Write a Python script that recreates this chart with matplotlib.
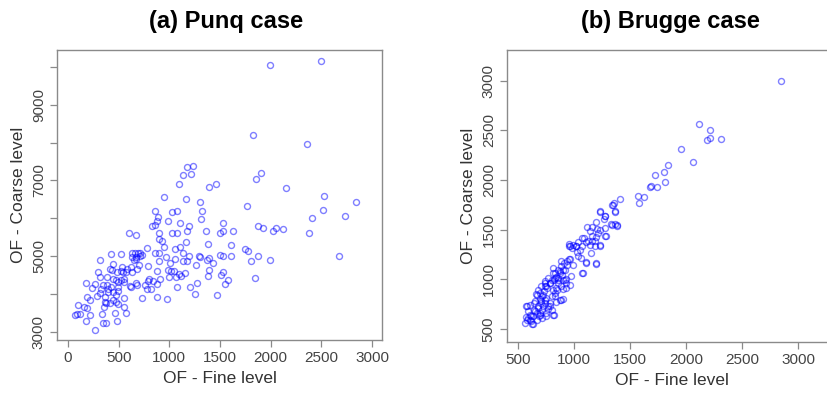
import matplotlib
matplotlib.use('Agg')
import matplotlib.pyplot as plt
from matplotlib.ticker import FixedLocator

# ── (a) Punq case: fine vs coarse objective function ──────────────────
punq_fine = [
    1995, 2499, 1830, 2357, 1902, 1856, 2153, 1770, 2529, 2845, 2516, 2736,
    2407, 2380, 2670, 1995, 1850, 1873, 1929, 2021, 2054, 2120, 1873, 1803,
    1780, 1747, 1632, 1606, 1606, 1527, 1527, 1500, 1527, 1500, 1527, 1510,
    1583, 1553, 1474, 1461, 1395, 1300, 1325, 1309, 1358, 1382, 1368, 1395,
    1434, 1395, 1385, 1296, 1302, 1260, 1270, 1257, 1203, 1236, 1170, 1131,
    1213, 1095, 1160, 950, 1075, 1025, 989, 857, 893, 874, 834, 857,
    1108, 1197, 1174, 1078, 1029, 897, 897, 926, 952, 778, 860, 900,
    966, 1006, 1058, 1108, 1164, 1134, 1131, 1170, 1197, 1055, 992, 1045,
    1065, 1111, 1154, 1091, 1019, 996, 910, 880, 897, 788, 796, 785,
    841, 874, 765, 778, 821, 735, 874, 979, 1072, 600, 669, 524,
    429, 313, 300, 313, 175, 270, 237, 188, 214, 102, 155, 188,
    66, 92, 115, 214, 175, 270, 340, 346, 379, 353, 372, 412,
    462, 485, 570, 554, 550, 491, 445, 478, 392, 330, 313, 290,
    362, 366, 399, 445, 495, 495, 429, 382, 346, 386, 445, 478,
    498, 550, 435, 415, 445, 485, 538, 547, 587, 620, 577, 636,
    682, 702, 709, 692, 663, 633, 656, 676, 709, 735, 636, 669,
    521, 610, 620, 676, 686, 521, 554, 471,
]
punq_coarse = [
    10059, 10165, 8206, 7959, 7209, 7033, 6794, 6327, 6600, 6433, 6230, 6062,
    6018, 5621, 5003, 4897, 4412, 5797, 5735, 5665, 5735, 5709, 5003, 4880,
    5144, 5188, 5665, 5294, 5012, 5868, 5656, 5603, 5012, 5030, 4588, 4500,
    4368, 4253, 3970, 6909, 6821, 6441, 6185, 5983, 5656, 5321, 4897, 4941,
    4827, 4632, 4474, 5003, 4968, 4765, 4297, 3997, 4174, 7394, 7350, 7156,
    7165, 6900, 6503, 6574, 6203, 6159, 5938, 6203, 6044, 5938, 5797, 5824,
    5868, 5806, 5665, 5603, 5603, 5621, 5453, 5400, 5233, 5206, 5074, 5091,
    4985, 4827, 5180, 5250, 5365, 5074, 4880, 4880, 5003, 4915, 4632, 4615,
    4438, 4483, 4562, 4518, 4615, 4456, 4385, 4615, 4880, 4738, 4385, 4332,
    4341, 4262, 4235, 4120, 4138, 3900, 3926, 3856, 4191, 5621, 5559, 5056,
    5056, 4897, 4588, 4438, 4279, 4253, 4147, 3909, 3838, 3706, 3662, 3618,
    3441, 3459, 3468, 3441, 3282, 3044, 3459, 3221, 3238, 3662, 3750, 3768,
    3503, 3282, 3485, 3644, 3882, 3732, 3838, 3970, 4120, 4120, 4015, 3944,
    3926, 3794, 4050, 4059, 4085, 4174, 4191, 4235, 4235, 4438, 4385, 4368,
    4323, 4306, 4632, 4668, 4791, 4579, 4703, 4571, 4668, 4721, 4571, 4571,
    4650, 4765, 5003, 5074, 5074, 4985, 4897, 4915, 5091, 5030, 5074, 4968,
    4597, 4209, 4191, 4297, 4235, 4368, 4385, 3794,
]

# ── (b) Brugge case ────────────────────────────────────────────────────
brugge_fine = [
    2845, 2116, 2217, 2187, 2217, 2312, 1952, 2062, 1836, 1801, 1720, 1809,
    1741, 1676, 1685, 1622, 1574, 1580, 1411, 1360, 1339, 1369, 1232, 1277,
    1265, 1333, 1366, 1387, 1274, 1199, 1208, 1229, 1164, 1116, 1140, 1283,
    1199, 1229, 1161, 1185, 1140, 1110, 1074, 1036, 1066, 1015, 985, 955,
    1027, 1036, 1057, 1104, 1193, 1074, 955, 937, 908, 887, 917, 857,
    872, 893, 926, 926, 807, 828, 842, 819, 857, 783, 753, 738,
    708, 768, 693, 658, 723, 753, 783, 842, 872, 902, 819, 723,
    679, 699, 649, 634, 604, 628, 574, 592, 574, 613, 580, 664,
    687, 717, 753, 768, 738, 693, 640, 604, 708, 783, 798, 828,
    807, 842, 887, 931, 902, 857, 955, 991,
    575, 589, 619, 604, 643, 664, 679, 703, 664, 709, 738, 732,
    762, 783, 744, 798, 827, 857, 812, 872, 902, 881, 932, 961,
    991, 961, 1021, 1051, 1080, 1110, 1199, 1089, 1161, 1229, 1214, 1274,
    1274, 1334, 1379, 1229, 1363, 1348, 827, 887, 812, 560, 634, 694,
    768, 902, 843, 961, 976, 917, 1125, 1155, 1185, 738, 679, 649,
    714, 753, 798,
]
brugge_coarse = [
    3000, 2564, 2504, 2403, 2420, 2413, 2313, 2186, 2152, 2085, 2055, 1981,
    1928, 1934, 1941, 1827, 1840, 1773, 1810, 1767, 1747, 1680, 1680, 1639,
    1609, 1556, 1562, 1539, 1512, 1582, 1505, 1492, 1525, 1525, 1482, 1432,
    1425, 1338, 1385, 1385, 1348, 1371, 1415, 1371, 1331, 1338, 1314, 1331,
    1271, 1231, 1214, 1164, 1157, 1063, 1204, 1180, 1164, 1137, 1097, 1097,
    1063, 1043, 1003, 912, 1117, 1063, 1023, 989, 962, 962, 929, 962,
    929, 1013, 862, 855, 845, 812, 761, 768, 788, 801, 644, 728,
    711, 644, 678, 634, 594, 554, 728, 678, 617, 627, 594, 594,
    627, 694, 661, 701, 761, 802, 761, 745, 778, 728, 828, 862,
    895, 912, 936, 962, 996, 1013, 1351, 1341,
    728, 611, 577, 644, 694, 661, 728, 761, 845, 828, 795, 878,
    912, 962, 979, 996, 1013, 996, 1063, 1080, 1097, 1180, 1147, 1204,
    1147, 1331, 1331, 1298, 1063, 1170, 1163, 1415, 1432, 1348, 1465, 1432,
    1633, 1549, 1549, 1683, 1683, 1750, 828, 795, 644, 560, 553, 661,
    728, 902, 895, 945, 1029, 996, 1382, 1264, 1331, 935, 895, 778,
    611, 627, 694,
]

punq_xticks = [0, 500, 1000, 1500, 2000, 2500, 3000]
punq_yticks = [3000, 4000, 5000, 6000, 7000, 8000, 9000, 10000]
punq_ylabels = ['3000', '', '5000', '', '7000', '', '9000', '']
brugge_ticks = [500, 1000, 1500, 2000, 2500, 3000]

SANS = ['Liberation Sans', 'DejaVu Sans']
TICK_C = '#444444'
BOX_C = '#8a8a8a'

fig = plt.figure(figsize=(8.27, 3.93), dpi=100, facecolor='white')
ax1 = fig.add_axes([0.0689, 0.1349, 0.393, 0.738])
ax2 = fig.add_axes([0.613, 0.1298, 0.398, 0.743])

panels = [
    (ax1, punq_fine, punq_coarse, (-108, 3098), (2780, 10450),
     punq_xticks, [str(t) for t in punq_xticks], punq_yticks, punq_ylabels,
     '(a) Punq case', 0.273),
    (ax2, brugge_fine, brugge_coarse, (400, 3340), (369, 3309),
     brugge_ticks, [str(t) for t in brugge_ticks], brugge_ticks,
     [str(t) for t in brugge_ticks], '(b) Brugge case', 0.811),
]

for ax, xs, ys, xl, yl, xt, xtl, yt, ytl, title, tx in panels:
    ax.plot(xs, ys, linestyle='none', marker='o', markersize=4.3,
            markerfacecolor='none', markeredgecolor=(0, 0, 1, 0.5),
            markeredgewidth=1.0)
    ax.set_xlim(*xl)
    ax.set_ylim(*yl)
    ax.xaxis.set_major_locator(FixedLocator(xt))
    ax.yaxis.set_major_locator(FixedLocator(yt))
    ax.set_xticklabels(xtl, fontsize=11, family=SANS, color=TICK_C)
    ax.set_yticklabels(ytl, fontsize=11, family=SANS, color=TICK_C,
                       rotation=90, va='center')
    ax.tick_params(direction='out', length=5, width=0.9, color=BOX_C, pad=3)
    for sp in ax.spines.values():
        sp.set_color(BOX_C)
        sp.set_linewidth(1.0)
    ax.set_xlabel('OF - Fine level', fontsize=12.5, family=SANS,
                  color='#333333', labelpad=4)
    ax.set_ylabel('OF - Coarse level', fontsize=12.5, family=SANS,
                  color='#333333', labelpad=4)
    fig.text(tx, 0.945, title, fontsize=17, fontweight='bold',
             family=SANS, ha='center', va='center', color='black')

fig.savefig('out.png', dpi=100, facecolor='white')
